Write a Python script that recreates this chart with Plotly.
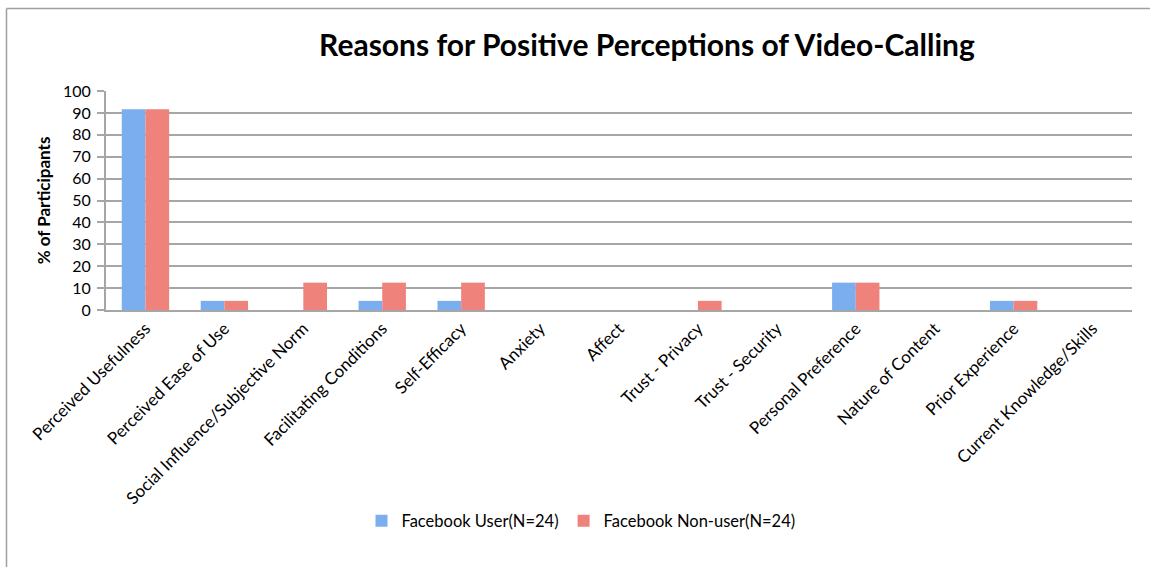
import plotly.graph_objects as go

categories = ["Perceived Usefulness", "Perceived Ease of Use", "Social Influence/Subjective Norm",
              "Facilitating Conditions", "Self-Efficacy", "Anxiety", "Affect", "Trust - Privacy",
              "Trust - Security", "Personal Preference", "Nature of Content", "Prior Experience",
              "Current Knowledge/Skills"]
fb_user = [91.67, 4.17, 0, 4.17, 4.17, 0, 0, 0, 0, 12.5, 0, 4.17, 0]
fb_nonuser = [91.67, 4.17, 12.5, 12.5, 12.5, 0, 0, 4.17, 0, 12.5, 0, 4.17, 0]
y_ticks = [0, 10, 20, 30, 40, 50, 60, 70, 80, 90, 100]

FONT = "Lato"

fig = go.Figure()
fig.add_trace(go.Bar(x=categories, y=fb_user, name="Facebook User(N=24)",
                     marker=dict(color="#7aaeee", line=dict(width=0))))
fig.add_trace(go.Bar(x=categories, y=fb_nonuser, name="Facebook Non-user(N=24)",
                     marker=dict(color="#ef827b", line=dict(width=0))))

L, R, T, B = 106, 18, 91, 257
W, H = 1150, 567
pw, ph = W - L - R, H - T - B

def px_x(p):
    return (p - L) / pw

def px_y(p):
    return (H - B - p) / ph

frame = dict(color="#a0a0a0", width=1.5)

fig.update_layout(
    width=W, height=H,
    margin=dict(l=L, r=R, t=T, b=B, autoexpand=False),
    paper_bgcolor="white", plot_bgcolor="white",
    font=dict(family=FONT, color="#000000"),
    barmode="group", bargap=0.40, bargroupgap=0,
    title=dict(text="<b>Reasons for Positive Perceptions of Video-Calling</b>",
               font=dict(size=30, family=FONT, color="#000000"),
               x=647 / W, xanchor="center", y=1 - 45 / H, yanchor="middle"),
    showlegend=True,
    legend=dict(orientation="h", x=px_x(581), xanchor="center", y=px_y(521), yanchor="middle",
                font=dict(size=16.5, family=FONT), itemwidth=30, tracegroupgap=0,
                bgcolor="rgba(0,0,0,0)"),
    xaxis=dict(tickangle=-45, tickfont=dict(size=17, family=FONT), showline=True,
               linecolor="#a6a6a6", linewidth=2, ticks="", showgrid=False),
    yaxis=dict(range=[0, 100], tickvals=y_ticks, tickfont=dict(size=16, family=FONT),
               showgrid=True, gridcolor="#a6a6a6", gridwidth=2,
               showline=True, linecolor="#a6a6a6", linewidth=2,
               ticks="outside", ticklen=7, tickcolor="#a6a6a6", tickwidth=2,
               ticklabelstandoff=3,
               zeroline=False,
               title=dict(text="<b>% of Participants</b>", font=dict(size=17, family=FONT),
                          standoff=8)),
    shapes=[
        dict(type="line", xref="paper", yref="paper",
             x0=px_x(6.5), x1=px_x(1152), y0=px_y(8.5), y1=px_y(8.5), line=frame, layer="below"),
        dict(type="line", xref="paper", yref="paper",
             x0=px_x(6.5), x1=px_x(6.5), y0=px_y(8.5), y1=px_y(567), line=frame, layer="below"),
    ],
)

fig.write_html("out.html")
